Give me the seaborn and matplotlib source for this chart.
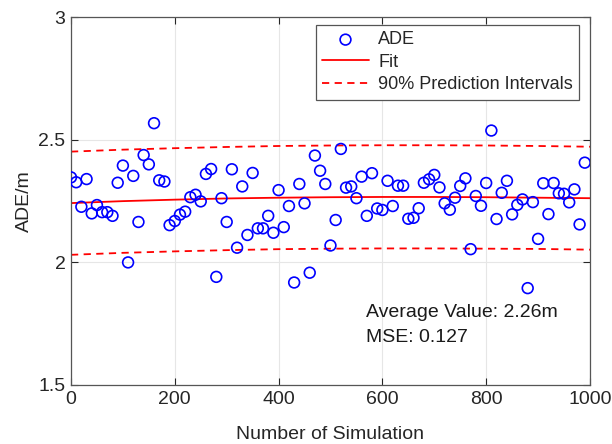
import numpy as np
import pandas as pd
import matplotlib
matplotlib.use("Agg")
import matplotlib.pyplot as plt
import seaborn as sns

# ---- data ----
simulation = list(range(0, 1000, 10))
ade = [2.347, 2.327, 2.227, 2.340, 2.200, 2.234, 2.205, 2.205, 2.190, 2.325,
       2.395, 2.000, 2.353, 2.165, 2.438, 2.400, 2.568, 2.335, 2.330, 2.152,
       2.169, 2.195, 2.207, 2.266, 2.276, 2.249, 2.361, 2.381, 1.941, 2.262,
       2.165, 2.380, 2.060, 2.310, 2.112, 2.365, 2.139, 2.139, 2.190, 2.121,
       2.295, 2.144, 2.230, 1.918, 2.320, 2.241, 1.958, 2.436, 2.374, 2.320,
       2.069, 2.173, 2.463, 2.305, 2.310, 2.262, 2.350, 2.190, 2.364, 2.220,
       2.214, 2.333, 2.230, 2.313, 2.313, 2.178, 2.182, 2.221, 2.325, 2.339,
       2.357, 2.306, 2.241, 2.215, 2.264, 2.312, 2.343, 2.054, 2.271, 2.231,
       2.324, 2.538, 2.177, 2.284, 2.333, 2.196, 2.235, 2.257, 1.895, 2.246,
       2.096, 2.323, 2.197, 2.324, 2.282, 2.280, 2.245, 2.298, 2.155, 2.407]

fit_x = [0, 100, 200, 300, 400, 500, 600, 700, 800, 900, 1000]
fit_y = [2.242, 2.250, 2.256, 2.261, 2.264, 2.266, 2.267, 2.267, 2.266, 2.264, 2.262]
pi_upper = [2.452, 2.460, 2.466, 2.471, 2.475, 2.477, 2.478, 2.478, 2.477, 2.475, 2.472]
pi_lower = [2.031, 2.039, 2.045, 2.050, 2.054, 2.056, 2.057, 2.057, 2.056, 2.055, 2.052]

x_ticks = [0, 200, 400, 600, 800, 1000]
y_ticks = [1.5, 2, 2.5, 3]
y_tick_labels = ["1.5", "2", "2.5", "3"]

# ---- style ----
sns.set_theme(style="whitegrid")
plt.rcParams["font.family"] = ["Liberation Sans", "DejaVu Sans"]

fig = plt.figure(figsize=(6.12, 4.44), dpi=100)
ax = fig.add_axes([0.116, 0.133, 0.848, 0.828])

pts = pd.DataFrame({"sim": simulation, "ade": ade})
fit = pd.DataFrame({"x": fit_x, "fit": fit_y, "up": pi_upper, "lo": pi_lower})

sns.scatterplot(data=pts, x="sim", y="ade", ax=ax, marker="o",
                facecolor="none", edgecolor="#0000ff", linewidth=1.2,
                s=60, label="ADE", zorder=3)
sns.lineplot(data=fit, x="x", y="fit", ax=ax, color="#ff0000", lw=1.3,
             label="Fit", zorder=2)
sns.lineplot(data=fit, x="x", y="up", ax=ax, color="#ff0000", lw=1.3,
             label="90% Prediction Intervals", zorder=2)
sns.lineplot(data=fit, x="x", y="lo", ax=ax, color="#ff0000", lw=1.3,
             zorder=2)
ax.lines[1].set_linestyle((0, (4, 3)))
ax.lines[2].set_linestyle((0, (4, 3)))

ax.set_xlim(0, 1000)
ax.set_ylim(1.5, 3)
ax.set_xticks(x_ticks)
ax.set_yticks(y_ticks)
ax.set_yticklabels(y_tick_labels)
ax.tick_params(axis="both", which="both", direction="in", length=5,
               width=0.8, colors="#262626", labelsize=14, pad=4,
               top=True, right=True, bottom=True, left=True,
               labelcolor="#262626")
ax.grid(True, color="#e6e6e6", lw=0.8)
for sp in ax.spines.values():
    sp.set_color("#555555")
    sp.set_linewidth(0.9)
ax.set_facecolor("white")

ax.set_xlabel("Number of Simulation", fontsize=14, color="#262626", labelpad=13)
ax.set_ylabel("ADE/m", fontsize=14, color="#262626", labelpad=4)

h, l = ax.get_legend_handles_labels()
leg = ax.legend(h, l, loc="upper right", bbox_to_anchor=(0.979, 0.979),
                borderaxespad=0, fontsize=13, frameon=True, fancybox=False,
                edgecolor="#555555", framealpha=1, handlelength=2.6,
                handletextpad=0.5, borderpad=0.35, labelspacing=0.3)
leg.get_frame().set_linewidth(0.9)

ax.text(569, 1.797, "Average Value: 2.26m", fontsize=14, color="#1a1a1a",
        va="center", ha="left")
ax.text(569, 1.695, "MSE: 0.127", fontsize=14, color="#1a1a1a",
        va="center", ha="left")

fig.savefig("out.png", dpi=100, facecolor="white")
